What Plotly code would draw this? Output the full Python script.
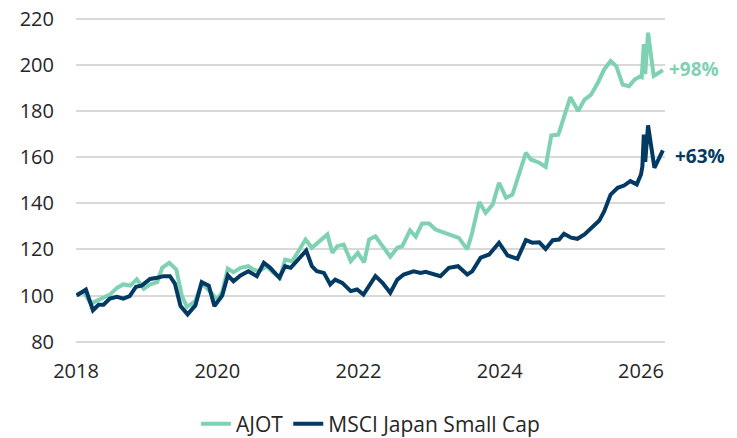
import plotly.graph_objects as go

# Decimal-year positions and index values
ajot_x = [2018.01, 2018.11, 2018.21, 2018.31, 2018.39, 2018.48, 2018.58, 2018.67, 2018.77, 2018.86,
          2018.96, 2019.05, 2019.15, 2019.22, 2019.32, 2019.42, 2019.50, 2019.57, 2019.69, 2019.78,
          2019.87, 2020.00, 2020.07, 2020.15, 2020.23, 2020.33, 2020.44, 2020.51, 2020.59, 2020.70,
          2020.80, 2020.89, 2020.96, 2021.06, 2021.15, 2021.25, 2021.34, 2021.46, 2021.56, 2021.63,
          2021.70, 2021.79, 2021.89, 2021.99, 2022.08, 2022.15, 2022.24, 2022.34, 2022.45, 2022.55,
          2022.62, 2022.73, 2022.81, 2022.90, 2023.00, 2023.09, 2023.42, 2023.54, 2023.61, 2023.71,
          2023.80, 2023.90, 2023.99, 2024.09, 2024.18, 2024.37, 2024.44, 2024.56, 2024.65, 2024.73,
          2024.83, 2025.00, 2025.11, 2025.20, 2025.29, 2025.39, 2025.48, 2025.57, 2025.65, 2025.74,
          2025.83, 2025.91, 2025.98, 2026.01, 2026.04, 2026.06, 2026.10, 2026.18, 2026.24, 2026.31]
ajot_y = [100.5, 101.5, 96.5, 98.0, 99.0, 100.4, 103.3, 104.8, 104.3, 107.0,
          102.9, 104.8, 105.8, 112.0, 114.2, 111.3, 99.7, 95.1, 97.5, 105.5,
          102.6, 98.3, 101.5, 111.6, 110.1, 112.0, 112.7, 111.3, 110.5, 112.7,
          109.8, 107.7, 115.6, 114.9, 119.2, 124.3, 120.7, 123.6, 126.5, 118.5,
          121.4, 122.1, 114.9, 118.5, 114.4, 124.3, 125.7, 121.4, 116.8, 120.7,
          121.4, 128.3, 125.5, 131.2, 131.2, 128.6, 125.0, 120.0, 127.2, 140.5,
          135.9, 139.5, 148.9, 142.4, 143.8, 161.9, 159.0, 157.6, 155.8, 169.4,
          169.8, 186.0, 180.0, 185.0, 187.0, 192.3, 198.1, 201.7, 199.5, 191.5,
          190.8, 193.7, 194.9, 194.6, 209.0, 196.0, 214.0, 195.2, 196.6, 197.7]

msci_x = [2018.01, 2018.14, 2018.24, 2018.32, 2018.39, 2018.48, 2018.58, 2018.67, 2018.76, 2018.85,
          2018.93, 2019.05, 2019.15, 2019.24, 2019.33, 2019.40, 2019.48, 2019.58, 2019.69, 2019.78,
          2019.88, 2019.96, 2020.07, 2020.15, 2020.23, 2020.33, 2020.44, 2020.56, 2020.66, 2020.75,
          2020.88, 2020.96, 2021.04, 2021.15, 2021.26, 2021.34, 2021.41, 2021.51, 2021.60, 2021.67,
          2021.77, 2021.89, 2021.98, 2022.07, 2022.15, 2022.24, 2022.34, 2022.45, 2022.55, 2022.64,
          2022.78, 2022.88, 2022.95, 2023.07, 2023.16, 2023.28, 2023.41, 2023.54, 2023.61, 2023.73,
          2023.85, 2023.99, 2024.11, 2024.25, 2024.37, 2024.46, 2024.56, 2024.65, 2024.75, 2024.84,
          2024.91, 2025.01, 2025.10, 2025.20, 2025.31, 2025.41, 2025.48, 2025.57, 2025.67, 2025.76,
          2025.85, 2025.94, 2026.00, 2026.02, 2026.04, 2026.06, 2026.10, 2026.17, 2026.19, 2026.31]
msci_y = [100.0, 102.6, 93.6, 96.0, 96.0, 98.7, 99.4, 98.6, 99.7, 103.8,
          104.3, 107.2, 107.7, 108.4, 108.4, 105.2, 95.4, 91.8, 95.7, 105.8,
          104.3, 95.4, 100.0, 108.7, 106.2, 108.7, 110.5, 108.4, 114.2, 112.0,
          107.7, 112.7, 112.0, 115.6, 119.5, 112.7, 110.5, 109.8, 104.8, 106.9,
          105.5, 101.9, 102.6, 100.4, 104.0, 108.4, 105.5, 101.2, 106.9, 109.1,
          110.5, 109.8, 110.3, 109.1, 108.4, 112.0, 112.7, 109.1, 110.5, 116.4,
          117.8, 122.9, 117.4, 115.9, 124.0, 122.9, 123.1, 120.2, 124.0, 124.3,
          126.8, 125.1, 124.6, 126.5, 129.4, 132.5, 136.6, 143.8, 146.7, 147.7,
          149.6, 148.2, 152.5, 156.0, 169.8, 158.0, 173.8, 159.0, 155.4, 163.0]

series_names = ["AJOT", "MSCI Japan Small Cap"]
end_labels = ["+98%", "+63%"]
x_ticks = [2018, 2020, 2022, 2024, 2026]
y_ticks = [80, 100, 120, 140, 160, 180, 200, 220]

GREEN = "#7fd1b3"
NAVY = "#033a63"
FONT = "Open Sans"
TEXT = "#262626"

fig = go.Figure()
fig.add_trace(go.Scatter(x=ajot_x, y=ajot_y, mode="lines", name=series_names[0],
                         line=dict(color=GREEN, width=4)))
fig.add_trace(go.Scatter(x=msci_x, y=msci_y, mode="lines", name=series_names[1],
                         line=dict(color=NAVY, width=4)))

fig.add_annotation(x=ajot_x[-1], y=ajot_y[-1], text="<b>" + end_labels[0] + "</b>",
                   showarrow=False, xanchor="left", yanchor="middle", xshift=4, yshift=1,
                   font=dict(family=FONT, size=19, color=GREEN))
fig.add_annotation(x=msci_x[-1], y=msci_y[-1], text="<b>" + end_labels[1] + "</b>",
                   showarrow=False, xanchor="left", yanchor="middle", xshift=10, yshift=-6,
                   font=dict(family=FONT, size=19, color=NAVY))

# The page body adds an 8 px offset, so the figure is sized 8 px smaller
fig.update_layout(
    width=729, height=430,
    margin=dict(l=68, r=72, t=9, b=95, autoexpand=False),
    paper_bgcolor="white", plot_bgcolor="white",
    font=dict(family=FONT, size=20, color=TEXT),
    showlegend=True,
    legend=dict(orientation="h", x=0.5, xanchor="center", y=-0.2485, yanchor="middle",
                font=dict(family=FONT, size=21, color=TEXT),
                traceorder="normal"),
)
fig.update_xaxes(range=[2018.0, 2026.34], tickvals=x_ticks, ticktext=[str(v) for v in x_ticks],
                 showgrid=False, zeroline=False, showline=False, ticks="",
                 ticklabelstandoff=14, ticklabeloverflow="allow")
fig.update_yaxes(range=[79.4, 220.8], tickvals=y_ticks, showgrid=True, gridcolor="#d9d9d9",
                 gridwidth=1.5, zeroline=False, showline=False, ticks="",
                 ticklabelstandoff=21, ticklabeloverflow="allow")

fig.write_html("out.html")
